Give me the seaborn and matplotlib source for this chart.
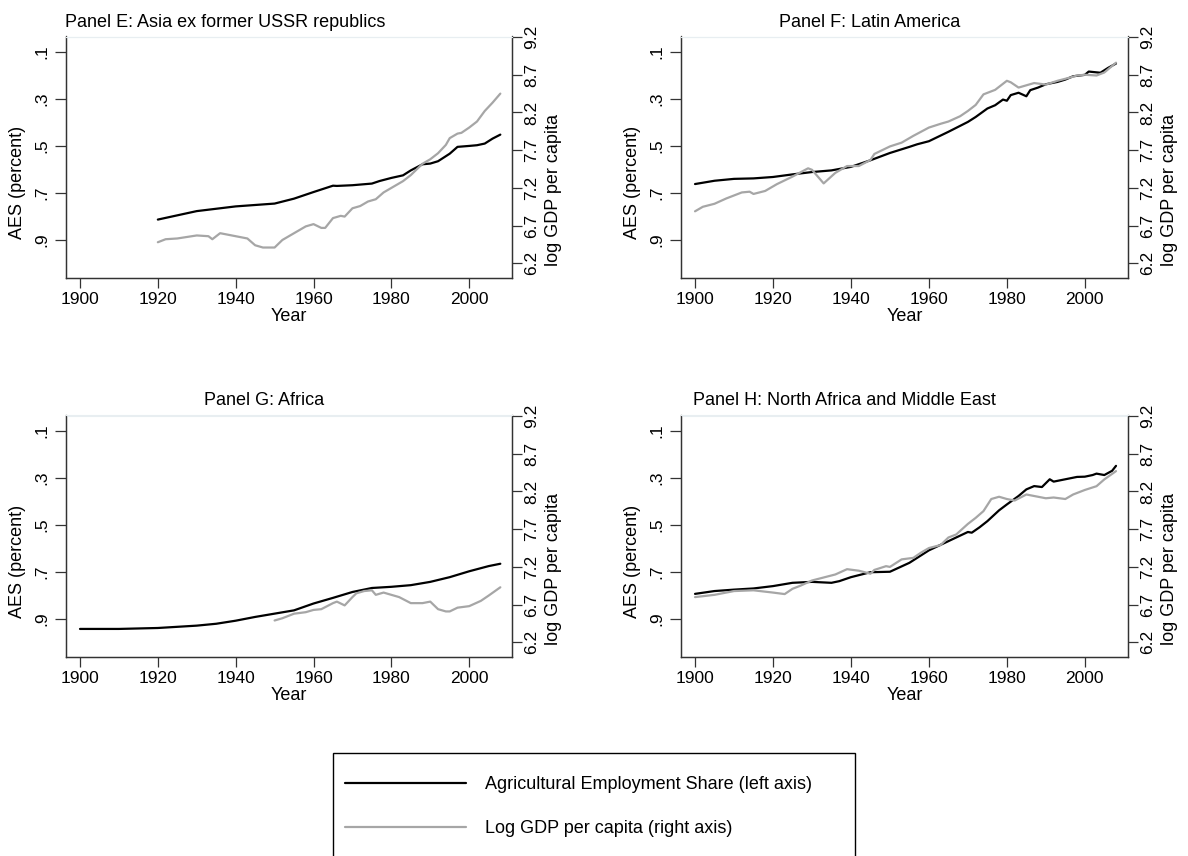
import matplotlib
matplotlib.use("Agg")
import matplotlib.pyplot as plt
import seaborn as sns
import pandas as pd
from matplotlib.lines import Line2D
from matplotlib.patches import Rectangle

sns.set_style("ticks")
plt.rcParams['font.family'] = ['Liberation Sans', 'DejaVu Sans']
plt.rcParams['text.color'] = 'black'
plt.rcParams['axes.labelcolor'] = 'black'
plt.rcParams['xtick.color'] = 'black'
plt.rcParams['ytick.color'] = 'black'

# ---------------- data ----------------
titles = ["Panel E: Asia ex former USSR republics", "Panel F: Latin America",
          "Panel G: Africa", "Panel H: North Africa and Middle East"]

# Panel E
e_aes_year = [1920, 1930, 1940, 1950, 1955, 1960, 1965, 1966, 1970, 1975, 1977, 1980, 1983, 1985,
              1988, 1990, 1992, 1995, 1997, 2000, 2002, 2004, 2006, 2008]
e_aes = [0.813, 0.777, 0.757, 0.745, 0.724, 0.696, 0.669, 0.670, 0.667, 0.660, 0.649, 0.636, 0.625,
         0.604, 0.578, 0.575, 0.565, 0.533, 0.504, 0.500, 0.497, 0.490, 0.469, 0.452]
e_gdp_year = [1920, 1922, 1925, 1930, 1933, 1934, 1936, 1940, 1943, 1945, 1947, 1950, 1952, 1955,
              1958, 1960, 1962, 1963, 1965, 1967, 1968, 1970, 1972, 1974, 1976, 1978, 1980, 1983,
              1985, 1988, 1990, 1992, 1994, 1995, 1997, 1998, 2000, 2002, 2004, 2006, 2008]
e_gdp = [6.48, 6.52, 6.53, 6.57, 6.56, 6.52, 6.60, 6.56, 6.53, 6.44, 6.41, 6.41, 6.51, 6.60, 6.69,
         6.72, 6.67, 6.67, 6.80, 6.83, 6.82, 6.93, 6.96, 7.02, 7.05, 7.14, 7.20, 7.29, 7.37, 7.52,
         7.58, 7.66, 7.77, 7.86, 7.92, 7.93, 8.00, 8.08, 8.22, 8.33, 8.45]

# Panel F
f_aes_year = [1900, 1905, 1910, 1915, 1920, 1925, 1930, 1935, 1940, 1945, 1950, 1955, 1957, 1960,
              1965, 1970, 1972, 1975, 1977, 1979, 1980, 1981, 1983, 1985, 1986, 1988, 1990, 1993,
              1995, 1997, 2000, 2001, 2004, 2006, 2008]
f_aes = [0.662, 0.648, 0.640, 0.638, 0.632, 0.621, 0.611, 0.604, 0.589, 0.561, 0.530, 0.504, 0.493,
         0.480, 0.440, 0.398, 0.377, 0.341, 0.327, 0.303, 0.308, 0.284, 0.274, 0.289, 0.263, 0.252,
         0.238, 0.228, 0.218, 0.204, 0.198, 0.184, 0.189, 0.168, 0.150]
f_gdp_year = [1900, 1902, 1905, 1908, 1912, 1914, 1915, 1918, 1921, 1925, 1929, 1930, 1933, 1936,
              1939, 1942, 1945, 1946, 1950, 1953, 1956, 1960, 1963, 1965, 1968, 1970, 1972, 1974,
              1977, 1980, 1981, 1983, 1985, 1987, 1990, 1993, 1996, 1998, 2000, 2003, 2005, 2008]
f_gdp = [6.89, 6.95, 6.99, 7.06, 7.14, 7.15, 7.12, 7.16, 7.25, 7.35, 7.46, 7.44, 7.26, 7.40, 7.49,
         7.49, 7.57, 7.65, 7.75, 7.80, 7.89, 8.00, 8.05, 8.08, 8.15, 8.22, 8.30, 8.44, 8.50, 8.62,
         8.60, 8.53, 8.56, 8.59, 8.57, 8.62, 8.66, 8.69, 8.70, 8.69, 8.73, 8.86]

# Panel G
g_aes_year = [1900, 1910, 1920, 1930, 1935, 1940, 1945, 1950, 1955, 1960, 1965, 1970, 1975, 1980,
              1985, 1990, 1995, 2000, 2005, 2008]
g_aes = [0.942, 0.942, 0.938, 0.928, 0.920, 0.907, 0.891, 0.877, 0.863, 0.834, 0.810, 0.785, 0.768,
         0.763, 0.756, 0.742, 0.722, 0.697, 0.675, 0.665]
g_gdp_year = [1950, 1952, 1955, 1958, 1960, 1962, 1965, 1966, 1968, 1970, 1971, 1973, 1975, 1976,
              1978, 1980, 1982, 1985, 1988, 1990, 1992, 1994, 1995, 1997, 2000, 2003, 2005, 2008]
g_gdp = [6.49, 6.52, 6.58, 6.60, 6.63, 6.64, 6.72, 6.74, 6.69, 6.80, 6.85, 6.88, 6.89, 6.83, 6.86,
         6.83, 6.80, 6.72, 6.72, 6.74, 6.64, 6.61, 6.61, 6.66, 6.68, 6.75, 6.82, 6.93]

# Panel H
h_aes_year = [1900, 1905, 1910, 1915, 1920, 1925, 1930, 1935, 1937, 1940, 1945, 1950, 1955, 1960,
              1965, 1970, 1971, 1973, 1975, 1978, 1980, 1983, 1985, 1987, 1989, 1991, 1992, 1995,
              1998, 2000, 2002, 2003, 2005, 2007, 2008]
h_aes = [0.793, 0.781, 0.775, 0.770, 0.760, 0.746, 0.742, 0.746, 0.739, 0.722, 0.701, 0.699, 0.661,
         0.608, 0.569, 0.530, 0.533, 0.510, 0.484, 0.438, 0.413, 0.377, 0.349, 0.335, 0.339, 0.306,
         0.316, 0.306, 0.296, 0.295, 0.288, 0.282, 0.288, 0.270, 0.249]
h_gdp_year = [1900, 1905, 1910, 1915, 1920, 1923, 1925, 1927, 1930, 1933, 1936, 1939, 1942, 1945,
              1946, 1949, 1950, 1953, 1956, 1958, 1960, 1963, 1965, 1967, 1970, 1972, 1974, 1976,
              1978, 1980, 1982, 1985, 1988, 1990, 1992, 1995, 1997, 2000, 2003, 2005, 2008]
h_gdp = [6.80, 6.83, 6.88, 6.89, 6.86, 6.84, 6.91, 6.95, 7.02, 7.06, 7.10, 7.17, 7.15, 7.11, 7.16,
         7.21, 7.20, 7.30, 7.32, 7.39, 7.45, 7.49, 7.59, 7.63, 7.77, 7.85, 7.94, 8.10, 8.13, 8.10,
         8.08, 8.16, 8.13, 8.11, 8.12, 8.10, 8.16, 8.22, 8.27, 8.36, 8.47]

x_ticks = [1900, 1920, 1940, 1960, 1980, 2000]
aes_ticks = [0.1, 0.3, 0.5, 0.7, 0.9]
aes_labels = [".1", ".3", ".5", ".7", ".9"]
gdp_ticks = [6.2, 6.7, 7.2, 7.7, 8.2, 8.7, 9.2]
gdp_labels = ["6.2", "6.7", "7.2", "7.7", "8.2", "8.7", "9.2"]
legend_labels = ["Agricultural Employment Share (left axis)", "Log GDP per capita (right axis)"]

# ---------------- figure ----------------
W, H = 1188, 856
fig = plt.figure(figsize=(W / 100, H / 100), dpi=100)
FS_TICK = 12.5
FS_LAB = 13
FS_TITLE = 13
FS_LEG = 13
BLACK = "#000000"
GRAY = "#a6a6a6"
SPINE = "#333333"


def box(l, r, t, b):
    return [l / W, 1 - b / H, (r - l) / W, (b - t) / H]


panels = [
    (box(66, 512, 36.5, 277.7), (225, 26.7), e_aes_year, e_aes, e_gdp_year, e_gdp),
    (box(681, 1127.7, 36.5, 277.7), (870, 26.7), f_aes_year, f_aes, f_gdp_year, f_gdp),
    (box(66, 512, 415.5, 656.7), (264, 405), g_aes_year, g_aes, g_gdp_year, g_gdp),
    (box(681, 1127.7, 415.5, 656.7), (844, 405), h_aes_year, h_aes, h_gdp_year, h_gdp),
]

for i, (rect, tpos, ay, av, gy, gv) in enumerate(panels):
    ax = fig.add_axes(rect)
    ax2 = ax.twinx()
    sns.lineplot(x=ay, y=av, ax=ax, color=BLACK, linewidth=1.6)
    sns.lineplot(x=gy, y=gv, ax=ax2, color=GRAY, linewidth=1.6)

    ax.set_xlim(1896.4, 2011)
    ax.set_ylim(1.06, 0.035)
    ax2.set_ylim(6.01, 9.207)

    ax.set_xticks(x_ticks)
    ax.set_xticklabels([str(v) for v in x_ticks], fontsize=FS_TICK)
    ax.set_yticks(aes_ticks)
    ax.set_yticklabels(aes_labels, fontsize=FS_TICK, rotation=90, va="center")
    ax2.set_yticks(gdp_ticks)
    ax2.set_yticklabels(gdp_labels, fontsize=FS_TICK, rotation=90, va="center")

    ax.set_xlabel("Year", fontsize=FS_LAB, labelpad=1)
    ax.set_ylabel("AES (percent)", fontsize=FS_LAB)
    ax2.set_ylabel("log GDP per capita", fontsize=FS_LAB)
    ax.yaxis.set_label_coords(-0.09, 0.395)
    ax2.yaxis.set_label_coords(1.075, 0.364)

    for a in (ax, ax2):
        a.spines["top"].set_color("#e8eef1")
        a.spines["top"].set_linewidth(0.8)
        for s in ("left", "right", "bottom"):
            a.spines[s].set_color(SPINE)
            a.spines[s].set_linewidth(0.9)
        a.grid(False)
    ax.tick_params(axis="x", length=7.2, width=0.9, color=SPINE, pad=3)
    ax.tick_params(axis="y", length=7.8, width=0.9, color=SPINE, pad=4.5)
    ax2.tick_params(axis="y", length=7.2, width=0.9, color=SPINE, pad=1.5)

    fig.text(tpos[0] / W, 1 - tpos[1] / H, titles[i], ha="center", va="baseline",
             fontsize=FS_TITLE, color="black")

# legend frame (open at the bottom edge, as in the reference)
fig.patches.append(Rectangle((333.4 / W, 1 - 870 / H), (855 - 333.4) / W, (870 - 753.3) / H,
                             transform=fig.transFigure, fill=False, edgecolor="black",
                             linewidth=1.0))
handles = [Line2D([], [], color=BLACK, linewidth=1.6),
           Line2D([], [], color=GRAY, linewidth=1.6)]
leg = fig.legend(handles, legend_labels, loc="upper left",
                 bbox_to_anchor=(345.4 / W, 1 - 776 / H),
                 fontsize=FS_LEG, frameon=False, handlelength=6.7,
                 handletextpad=1.05, labelspacing=1.5, borderpad=0, borderaxespad=0)
for t in leg.get_texts():
    t.set_color("black")

fig.savefig("out.png", dpi=100)
